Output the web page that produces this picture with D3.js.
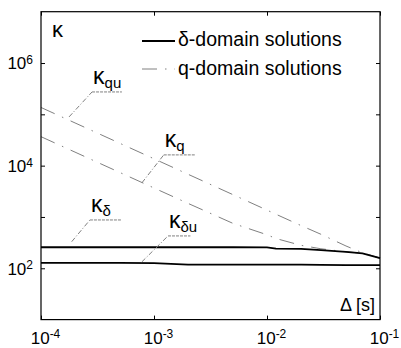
<!DOCTYPE html>
<html><head><meta charset="utf-8">
<script src="https://cdn.jsdelivr.net/npm/d3@7"></script>
<style>body{margin:0;background:#fff} svg{display:block;font-family:"Liberation Sans",Arial,sans-serif}</style>
</head><body><svg id="c" width="401" height="348"></svg>
<script>
// Sampling interval Δ [s]
const delta      = [1e-4, 2e-4, 5e-4, 1e-3, 2e-3, 5e-3, 1e-2, 1.2e-2, 2e-2, 3e-2, 5e-2, 7e-2, 1e-1];
// δ-domain solutions (solid)
const kappaDelta  = [257, 257, 257, 257, 257, 257, 256, 242, 238, 225, 208, 195, 157];
const kappaDeltaU = [127, 127, 127, 126, 118, 118, 118, 118, 118, 117, 115, 115, 115];
// q-domain solutions (dash-dot)
const kappaQ  = [36700, 18350, 7340, 3670, 1840, 750, 450, 380, 280, 240, 210, 196, 158];
const kappaQU = [136000, 68000, 27200, 13600, 6800, 2720, 1360, 1130, 680, 460, 272, 200, 158];

const xTicks = [1e-4, 1e-3, 1e-2, 1e-1];
const xTickExp = ["-4", "-3", "-2", "-1"];
const yTicks = [1e2, 1e3, 1e4, 1e5, 1e6];
const yTickExp = ["2", "", "4", "", "6"];

const legendLabels = ["δ-domain solutions", "q-domain solutions"];
// annotation labels: main, subscript, leader end (Δ, κ), underline Δ range, underline κ
const annotations = [
  {main:"κ", sub:"qu", endD:1.77e-4, endK:8.9e4, ulD:[2.83e-4, 5.2e-4], ulK:2.73e5},
  {main:"κ", sub:"q",  endD:7.8e-4,  endK:4600,  ulD:[1.22e-3, 2.31e-3], ulK:1.62e4},
  {main:"κ", sub:"δ",  endD:1.87e-4, endK:330,   ulD:[2.71e-4, 5.2e-4], ulK:874},
  {main:"κ", sub:"δu", endD:7.8e-4,  endK:133,   ulD:[1.33e-3, 2.1e-3], ulK:427}
];

const svg = d3.select("#c");
const L = 41, R = 380, T = 11.7, B = 319.6;
const x = d3.scaleLog().domain([1e-4, 1e-1]).range([L, R]);
const y = d3.scaleLog().domain([1e1, 1e7]).range([B, T]);

const dashStyle = "15,8,1.5,8";
const gray = "#808080";

// series
const line = d3.line().x((d,i)=>x(delta[i])).y(d=>y(d));
[kappaQU, kappaQ].forEach(s=>{
  svg.append("path").attr("d", line(s)).attr("fill","none")
    .attr("stroke", gray).attr("stroke-width",1).attr("stroke-dasharray", dashStyle);
});
[kappaDeltaU, kappaDelta].forEach(s=>{
  svg.append("path").attr("d", line(s)).attr("fill","none")
    .attr("stroke","#000").attr("stroke-width",1.8);
});

// frame
svg.append("rect").attr("x",L).attr("y",T).attr("width",R-L).attr("height",B-T)
  .attr("fill","none").attr("stroke","#000").attr("stroke-width",1.2);

// axes with inward ticks
function sup(sel, exps){
  sel.selectAll(".tick text").each(function(d,i){
    const t = d3.select(this); t.text(null);
    if(!exps[i]) return;
    t.append("tspan").text("10");
    t.append("tspan").attr("dy","-0.45em").attr("font-size","12px").text(exps[i]);
  });
}
const gx = svg.append("g").attr("transform",`translate(0,${B})`)
  .call(d3.axisBottom(x).tickValues(xTicks).tickSizeInner(-4).tickSizeOuter(0).tickFormat(()=>""));
gx.select(".domain").remove();
gx.selectAll("text").attr("font-size","17px").attr("fill","#000").attr("dx","4").attr("y",24).attr("dy",0);
sup(gx, xTickExp);

const gxt = svg.append("g").attr("transform",`translate(0,${T})`)
  .call(d3.axisTop(x).tickValues(xTicks).tickSizeInner(-4).tickSizeOuter(0).tickFormat(()=>""));
gxt.select(".domain").remove();

const gy = svg.append("g").attr("transform",`translate(${L},0)`)
  .call(d3.axisLeft(y).tickValues(yTicks).tickSizeInner(-4).tickSizeOuter(0).tickPadding(8).tickFormat(()=>""));
gy.select(".domain").remove();
gy.selectAll("text").attr("font-size","17px").attr("fill","#000").attr("dy","0.35em");
sup(gy, yTickExp);

const gyr = svg.append("g").attr("transform",`translate(${R},0)`)
  .call(d3.axisRight(y).tickValues(yTicks).tickSizeInner(-4).tickSizeOuter(0).tickFormat(()=>""));
gyr.select(".domain").remove();
svg.selectAll(".tick line").attr("stroke","#000");

// axis labels
svg.append("text").attr("x",52).attr("y",37).attr("font-size","22px").text("κ");
svg.append("text").attr("x",R-5).attr("y",311).attr("text-anchor","end").attr("font-size","18px").text("Δ [s]");

// legend
const lg = svg.append("g");
lg.append("line").attr("x1",142).attr("x2",175).attr("y1",41).attr("y2",41).attr("stroke","#000").attr("stroke-width",1.8);
lg.append("line").attr("x1",142).attr("x2",175).attr("y1",69).attr("y2",69).attr("stroke",gray).attr("stroke-width",1).attr("stroke-dasharray",dashStyle);
legendLabels.forEach((t,i)=>{
  lg.append("text").attr("x",178).attr("y",46+i*29).attr("font-size","19.5px").text(t);
});

// annotations
annotations.forEach(a=>{
  const x0 = x(a.ulD[0]), x1 = x(a.ulD[1]), yu = y(a.ulK);
  svg.append("line").attr("x1",x0).attr("x2",x1).attr("y1",yu).attr("y2",yu)
    .attr("stroke",gray).attr("stroke-width",1).attr("stroke-dasharray","3,1");
  svg.append("line").attr("x1",x(a.endD)).attr("y1",y(a.endK)).attr("x2",x0).attr("y2",yu)
    .attr("stroke",gray).attr("stroke-width",1).attr("stroke-dasharray","5,2,1,2");
  const t = svg.append("text").attr("x",x0+1).attr("y",yu-8).attr("font-size","23px");
  t.append("tspan").text(a.main);
  t.append("tspan").attr("font-size","15px").attr("dy","4").text(a.sub);
});
</script></body></html>
